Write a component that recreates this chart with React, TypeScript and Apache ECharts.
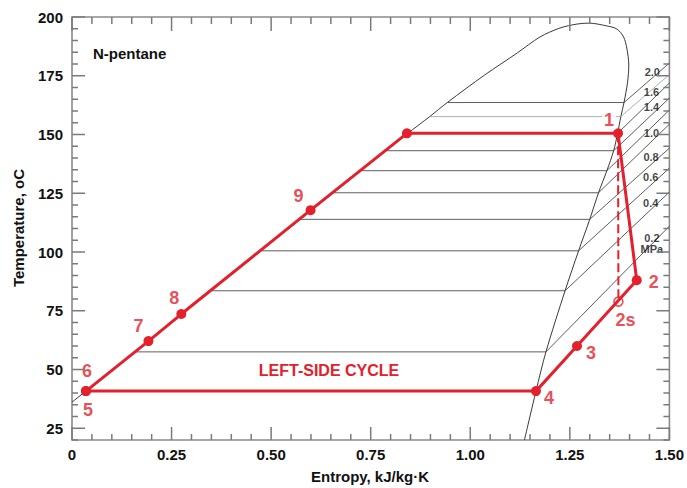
import React, { useEffect, useRef } from "react";
import * as echarts from "echarts";

// ---- data ----
// saturation dome (entropy kJ/kg-K, temperature C)
const domeS = [0, 0.841, 0.898, 0.943, 1.036, 1.118, 1.175, 1.225, 1.268, 1.298, 1.343, 1.368, 1.385, 1.393, 1.398, 1.395, 1.386, 1.378, 1.370, 1.360, 1.343, 1.322, 1.300, 1.272, 1.238, 1.190, 1.165, 1.136];
const domeT = [36.1, 150.2, 157.6, 163.7, 175.3, 184.7, 191.5, 195.3, 197.0, 197.4, 196.2, 194.9, 191.5, 186.8, 179.6, 172.3, 163.6, 157.6, 150.5, 143.1, 134.6, 125.2, 113.9, 100.5, 83.5, 57.5, 40.8, 20];

// isobars (MPa): saturation temperature, liquid/vapour entropy, temperature where they meet s = 1.5
const isobarP = [0.2, 0.4, 0.6, 0.8, 1.0, 1.2, 1.4, 1.6, 1.8, 2.0];
const isobarTsat = [57.5, 83.5, 100.5, 113.9, 125.2, 134.6, 143.1, 150.5, 157.6, 163.6];
const isobarSL = [0.158, 0.350, 0.475, 0.574, 0.657, 0.726, 0.789, 0.841, 0.898, 0.943];
const isobarSV = [1.190, 1.238, 1.272, 1.300, 1.322, 1.343, 1.360, 1.370, 1.378, 1.386];
const isobarEndS = 1.5;
const isobarEndT = [111.0, 125.5, 135.7, 144.2, 154.4, 160.4, 165.5, 171.9, 175.5, 180.4];

// isobar labels near the right frame
const isoLabelText = ["0.2\nMPa", "0.4", "0.6", "0.8", "1.0", "1.4", "1.6", "2.0"];
const isoLabelS = [1.456, 1.453, 1.453, 1.454, 1.455, 1.455, 1.455, 1.457];
const isoLabelT = [103.6, 120.8, 131.9, 140.4, 150.6, 161.7, 168.1, 176.6];

// cycle: 5/6 -> 7 -> 8 -> 9 -> sat. liquid -> 1 -> 2 -> 3 -> 4 -> 5
const cycleS = [0.035, 0.192, 0.2745, 0.599, 0.841, 1.371, 1.418, 1.268, 1.165, 0.035];
const cycleT = [40.8, 62.1, 73.6, 117.8, 150.5, 150.5, 88.0, 60.0, 40.8, 40.8];
const isentropS = [1.371, 1.372];
const isentropT = [150.5, 78.9];
const point2sS = 1.372;
const point2sT = 78.9;

// state point labels
const stateNames = ["6", "5", "7", "8", "9", "1", "2", "2s", "3", "4"];
const stateS = [0.035, 0.035, 0.192, 0.2745, 0.599, 1.371, 1.418, 1.372, 1.268, 1.165];
const stateT = [40.8, 40.8, 62.1, 73.6, 117.8, 150.5, 88.0, 78.9, 60.0, 40.8];
const stateOffsets: number[][] = [[1, -20], [2, 19], [-10, -15], [-7, -16], [-12, -14], [-9, -13], [17, 2], [7, 18], [14, 7], [13, 7]];

// axes
const xMin = 0, xMax = 1.5, xMinorStep = 0.05, xMajorStep = 0.25;
const yMin = 20, yMax = 200, yMinorStep = 5, yMajorStep = 25;

const FONT = '"Liberation Sans", Arial, Helvetica, sans-serif';
const RED = "#e3202b";
const FRAME = "#8a8a8a";
const TICK = "#7a7a7a";

function zip(a: number[], b: number[]) {
  return a.map((v, i) => [v, b[i]]);
}
function isMultiple(v: number, step: number) {
  const r = v / step;
  return Math.abs(r - Math.round(r)) < 1e-6;
}
function steps(min: number, max: number, step: number) {
  const out: number[] = [];
  const n = Math.round((max - min) / step);
  for (let i = 0; i <= n; i++) out.push(+(min + i * step).toFixed(6));
  return out;
}

export default function App() {
  const ref = useRef<HTMLDivElement>(null);
  useEffect(() => {
    if (!ref.current) return;
    const chart = echarts.init(ref.current, undefined, { renderer: "svg" });

    const tickLabel = { fontFamily: FONT, fontWeight: "bold", fontSize: 15, color: "#111" };

    const isobarSeries = isobarP.map((p, i) => ({
      type: "line",
      name: p + " MPa",
      data: [
        [isobarSL[i], isobarTsat[i]],
        [isobarSV[i], isobarTsat[i]],
        [isobarEndS, isobarEndT[i]],
      ],
      showSymbol: false,
      symbol: "none",
      lineStyle: { color: p === 1.8 ? "#9a9a9a" : "#333", width: 0.8 },
      z: 2,
      silent: true,
    }));

    const texts: any[] = [
      {
        type: "text",
        x: 93,
        y: 53,
        style: { text: "N-pentane", fontFamily: FONT, fontWeight: "bold", fontSize: 15, fill: "#111", align: "left", verticalAlign: "middle" },
      },
      {
        type: "text",
        x: 329,
        y: 370,
        style: { text: "LEFT-SIDE CYCLE", fontFamily: FONT, fontWeight: "bold", fontSize: 16, fill: RED, align: "center", verticalAlign: "middle" },
      },
      {
        type: "text",
        x: 370,
        y: 476,
        style: { text: "Entropy, kJ/kg\u00b7K", fontFamily: FONT, fontWeight: "bold", fontSize: 15, fill: "#111", align: "center", verticalAlign: "middle" },
      },
      {
        type: "text",
        x: 18,
        y: 228,
        rotation: Math.PI / 2,
        style: { text: "Temperature, oC", fontFamily: FONT, fontWeight: "bold", fontSize: 15, fill: "#111", align: "center", verticalAlign: "middle" },
      },
    ];

    const option: any = {
      animation: false,
      grid: {
        left: 72,
        right: 14,
        top: 17,
        bottom: 48,
        containLabel: false,
        show: true,
        borderColor: FRAME,
        borderWidth: 1.6,
        backgroundColor: "transparent",
      },
      xAxis: {
        type: "value",
        min: xMin,
        max: xMax,
        interval: xMinorStep,
        splitLine: { show: false },
        axisLine: { show: false, onZero: false },
        axisTick: { show: false },
        axisLabel: {
          show: true,
          ...tickLabel,
          margin: 7,
          formatter: (v: number) => (isMultiple(v, xMajorStep) ? (v === 0 ? "0" : v.toFixed(2)) : ""),
        },
      },
      yAxis: {
        type: "value",
        min: yMin,
        max: yMax,
        interval: yMinorStep,
        splitLine: { show: false },
        axisLine: { show: false, onZero: false },
        axisTick: { show: false },
        axisLabel: {
          show: true,
          ...tickLabel,
          margin: 9,
          formatter: (v: number) => (isMultiple(v, yMajorStep) ? String(v) : ""),
        },
      },
      series: [
        {
          type: "line",
          name: "dome",
          data: zip(domeS, domeT),
          showSymbol: false,
          symbol: "none",
          smooth: 0.3,
          lineStyle: { color: "#222", width: 0.9 },
          z: 2,
        },
        ...isobarSeries,
        {
          type: "line",
          name: "isentropic",
          data: zip(isentropS, isentropT),
          showSymbol: false,
          symbol: "none",
          lineStyle: { color: RED, width: 2, type: [9, 4] },
          z: 4,
        },
        {
          type: "line",
          name: "cycle",
          data: zip(cycleS, cycleT),
          symbol: "circle",
          symbolSize: 10,
          showSymbol: true,
          showAllSymbol: true,
          itemStyle: { color: RED },
          lineStyle: { color: RED, width: 3 },
          z: 5,
        },
        {
          type: "scatter",
          name: "2s",
          data: [[point2sS, point2sT]],
          symbol: "circle",
          symbolSize: 9,
          itemStyle: { color: "rgba(255,255,255,0)", borderColor: RED, borderWidth: 1.6 },
          z: 6,
        },
        {
          type: "scatter",
          name: "state labels",
          data: stateNames.map((n, i) => ({
            value: [stateS[i], stateT[i]],
            name: n,
            label: {
              offset: stateOffsets[i],
              backgroundColor: n === "1" ? "#fff" : "transparent",
              padding: n === "1" ? [0, 2] : 0,
            },
          })),
          symbol: "circle",
          symbolSize: 1,
          itemStyle: { color: "transparent" },
          label: {
            show: true,
            position: "inside",
            formatter: (p: any) => p.name,
            fontFamily: FONT,
            fontWeight: "bold",
            fontSize: 18,
            color: RED,
          },
          z: 7,
          silent: true,
        },
        {
          type: "scatter",
          name: "isobar labels",
          data: isoLabelText.map((t, i) => ({ value: [isoLabelS[i], isoLabelT[i]], name: t })),
          symbol: "circle",
          symbolSize: 1,
          itemStyle: { color: "transparent" },
          label: {
            show: true,
            position: "inside",
            formatter: (p: any) => p.name,
            fontFamily: FONT,
            fontWeight: "bold",
            fontSize: 11,
            lineHeight: 11,
            color: "#111",
            align: "center",
          },
          z: 7,
          silent: true,
        },
      ],
      graphic: texts,
    };

    chart.setOption(option);

    // tick marks on all four sides, placed through the chart's own scales
    try {
      const toPx = (x: number, y: number) => chart.convertToPixel({ gridIndex: 0 } as any, [x, y]) as number[];
      const bl = toPx(xMin, yMin);
      const tr = toPx(xMax, yMax);
      const left = bl[0], bottom = bl[1], right = tr[0], top = tr[1];
      const ticks: any[] = [];
      const mk = (x1: number, y1: number, x2: number, y2: number) => ({
        type: "line",
        silent: true,
        z: 50,
        shape: { x1, y1, x2, y2 },
        style: { stroke: TICK, lineWidth: 1.5 },
      });
      steps(xMin, xMax, xMinorStep).forEach((v) => {
        const px = toPx(v, yMin)[0];
        const len = isMultiple(v, xMajorStep) ? 13 : 6;
        ticks.push(mk(px, bottom, px, bottom - len));
        ticks.push(mk(px, top, px, top + len + 1));
      });
      steps(yMin, yMax, yMinorStep).forEach((v) => {
        const py = toPx(xMin, v)[1];
        const len = isMultiple(v, yMajorStep) ? 13 : 6;
        ticks.push(mk(left, py, left + len, py));
        ticks.push(mk(right, py, right - len, py));
      });
      chart.setOption({ graphic: [...texts, ...ticks] });
    } catch (e) {
      // keep the chart as drawn
    }

    return () => chart.dispose();
  }, []);

  return <div ref={ref} style={{ position: "fixed", left: 0, top: 0, width: 687, height: 488, background: "#fff" }} />;
}
